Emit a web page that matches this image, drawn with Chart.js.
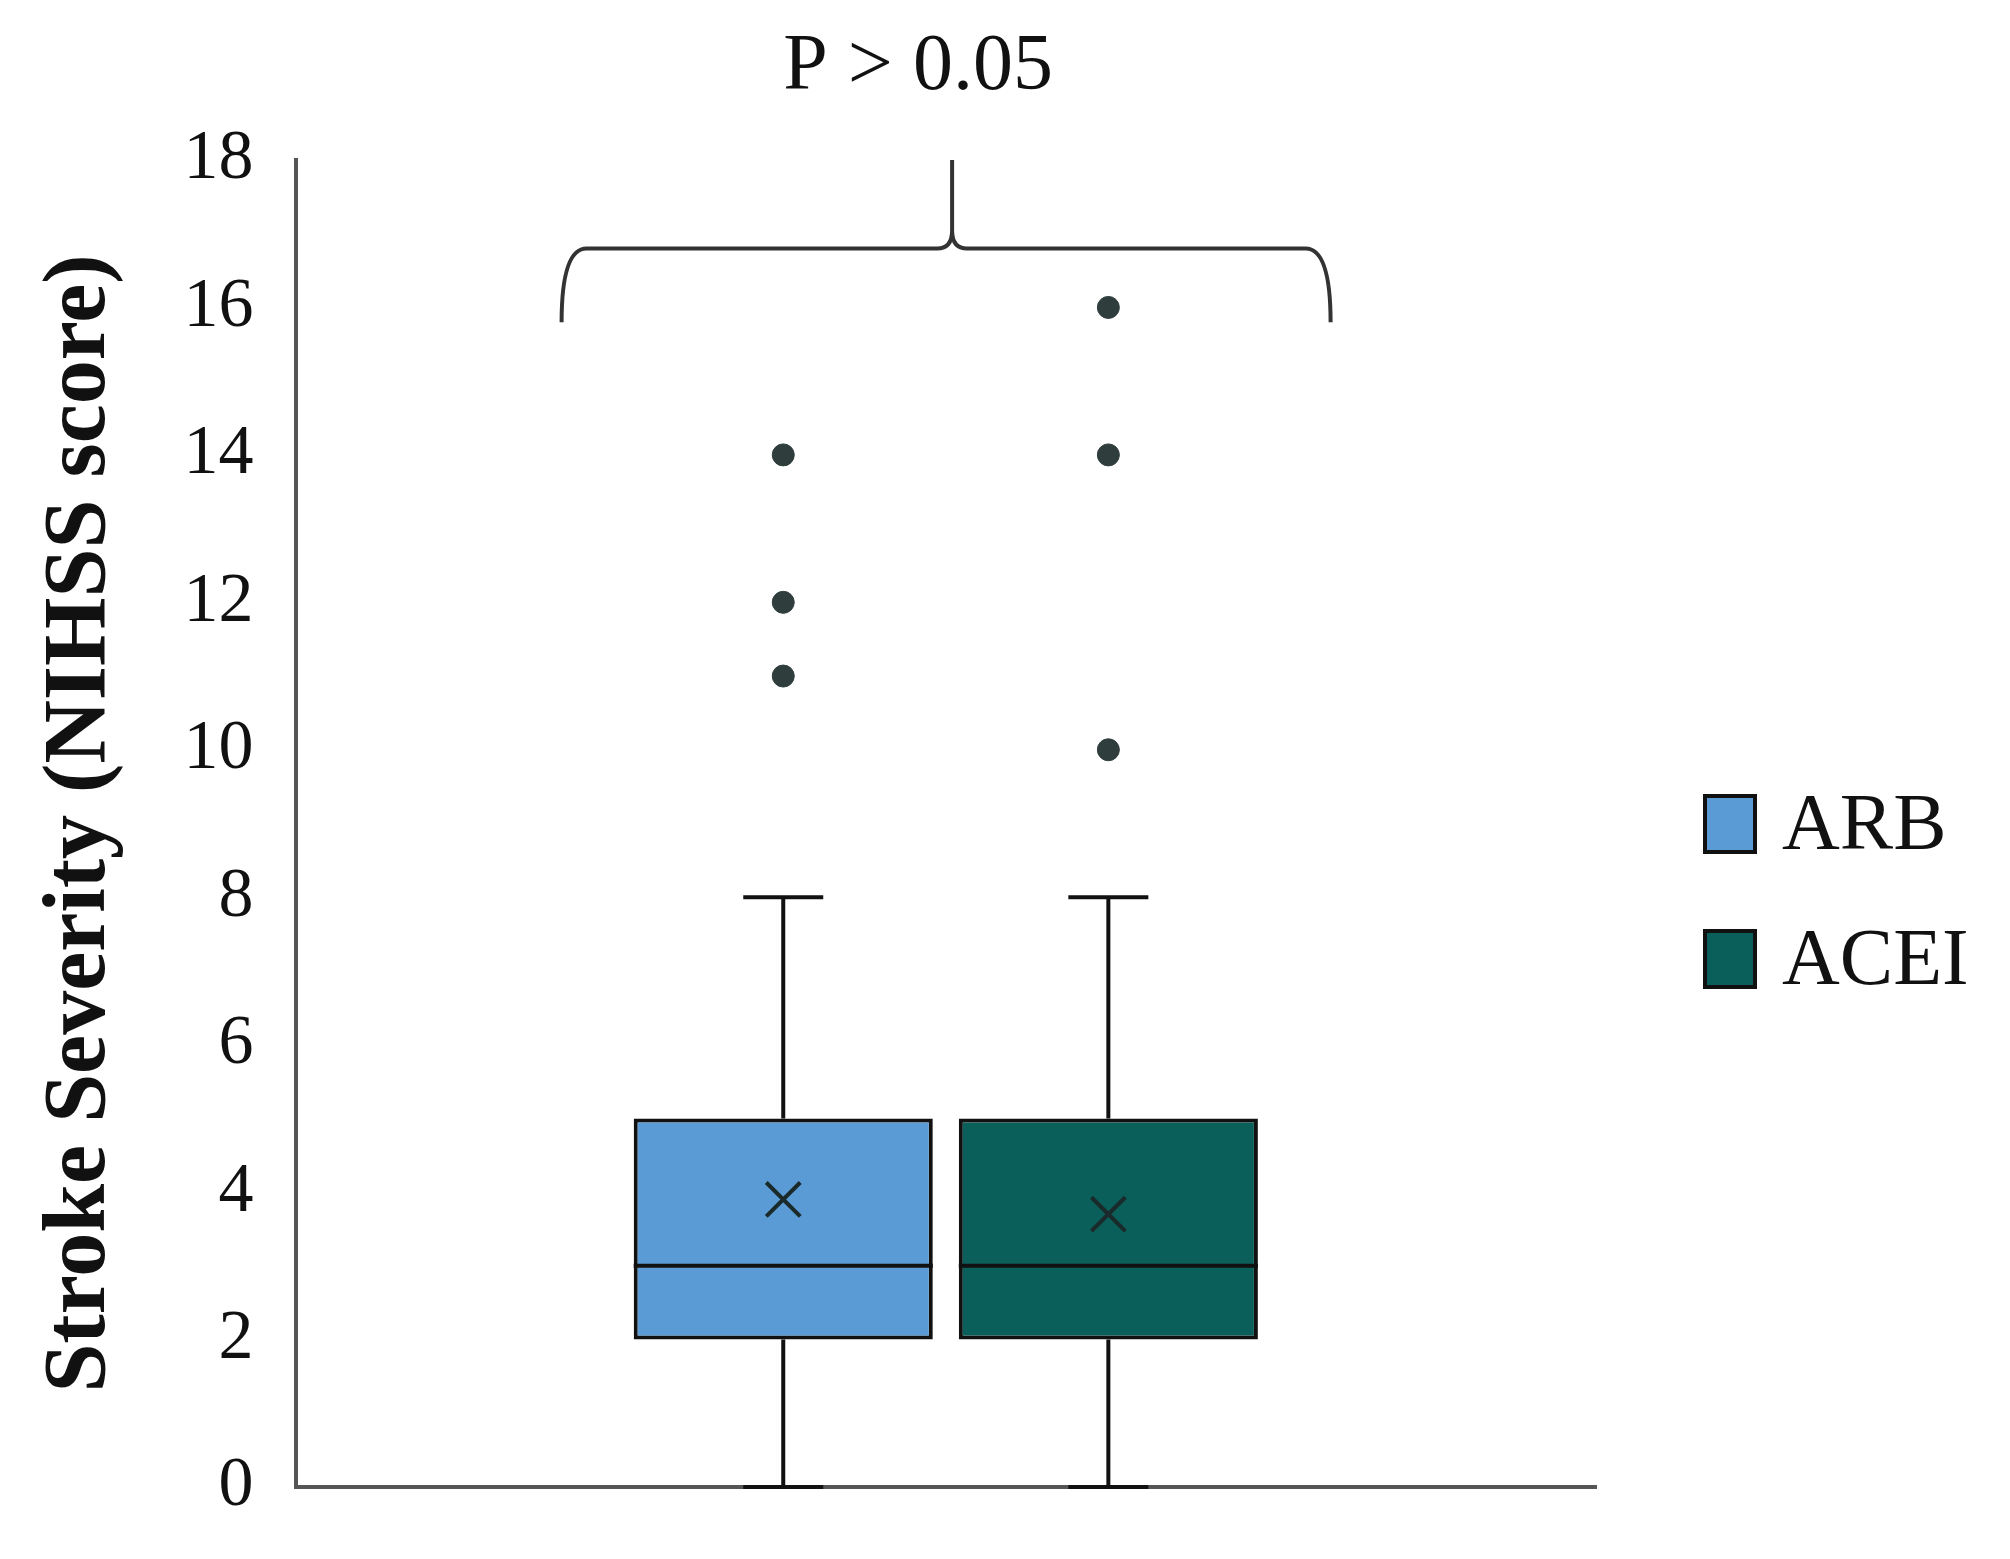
<!DOCTYPE html>
<html><head><meta charset="utf-8">
<script src="https://cdn.jsdelivr.net/npm/chart.js@4"></script>
<style>html,body{margin:0;padding:0;background:#fff}#w{width:2010px;height:1559px}</style>
</head><body><div id="w"><canvas id="c"></canvas></div>
<script>
const categories = ['ARB', 'ACEI'];
const slots = ['', 'ARB', 'ACEI', ''];
const q1 = [2, 2];
const q3 = [5, 5];
const medians = [3, 3];
const means = [3.9, 3.7];
const whiskerLow = [0, 0];
const whiskerHigh = [8, 8];
const outliers = [[11, 12, 14], [10, 14, 16]];
const colors = ['#5b9bd5', '#0b5f5a'];
const yTicks = [0, 2, 4, 6, 8, 10, 12, 14, 16, 18];
const pText = 'P > 0.05';

const datasets = categories.map((c, i) => ({
  type: 'bar', label: c,
  data: slots.map(s => s === c ? [q1[i], q3[i]] : null),
  backgroundColor: colors[i], borderColor: '#111', borderWidth: 4, borderSkipped: false,
  barPercentage: 0.92, categoryPercentage: 1, grouped: false, order: 2
}));
datasets.push({
  type: 'line', label: 'outliers', showLine: false,
  data: categories.flatMap((c, i) => outliers[i].map(v => ({x: c, y: v}))),
  pointRadius: 11, pointBackgroundColor: '#2f3e3d', pointBorderColor: '#2f3e3d', order: 0
});
datasets.push({
  type: 'line', label: 'mean', showLine: false,
  data: categories.map((c, i) => ({x: c, y: means[i]})),
  pointStyle: 'crossRot', pointRadius: 24, pointBorderWidth: 4, pointBorderColor: '#1a2a2a', order: 0
});

const extras = {
  id: 'extras',
  beforeDatasetsDraw(chart) {
    const ctx = chart.ctx, x = chart.scales.x, y = chart.scales.y;
    ctx.save(); ctx.strokeStyle = '#111'; ctx.lineWidth = 4;
    categories.forEach((c, i) => {
      const cx = x.getPixelForValue(slots.indexOf(c));
      ctx.beginPath();
      ctx.moveTo(cx, y.getPixelForValue(whiskerLow[i])); ctx.lineTo(cx, y.getPixelForValue(q1[i]));
      ctx.moveTo(cx, y.getPixelForValue(q3[i])); ctx.lineTo(cx, y.getPixelForValue(whiskerHigh[i]));
      ctx.moveTo(cx - 40, y.getPixelForValue(whiskerHigh[i])); ctx.lineTo(cx + 40, y.getPixelForValue(whiskerHigh[i]));
      ctx.moveTo(cx - 40, y.getPixelForValue(whiskerLow[i])); ctx.lineTo(cx + 40, y.getPixelForValue(whiskerLow[i]));
      ctx.stroke();
    });
    ctx.restore();
  },
  afterDatasetsDraw(chart) {
    const ctx = chart.ctx, x = chart.scales.x, y = chart.scales.y;
    ctx.save(); ctx.strokeStyle = '#111'; ctx.lineWidth = 4;
    categories.forEach((c, i) => {
      const cx = x.getPixelForValue(slots.indexOf(c));
      const half = x.width / slots.length * 0.92 / 2;
      const my = y.getPixelForValue(medians[i]);
      ctx.beginPath(); ctx.moveTo(cx - half, my); ctx.lineTo(cx + half, my); ctx.stroke();
    });
    // brace
    const xl = chart.chartArea.left + 266, xr = chart.chartArea.left + 1035, xm = (xl + xr) / 2 + 6;
    const yb = y.getPixelForValue(16.8), ye = y.getPixelForValue(15.8), yt = y.getPixelForValue(18);
    ctx.strokeStyle = '#333'; ctx.lineWidth = 4;
    ctx.beginPath();
    ctx.moveTo(xl, ye); ctx.quadraticCurveTo(xl, yb, xl + 25, yb);
    ctx.lineTo(xm - 15, yb); ctx.quadraticCurveTo(xm, yb, xm, yb - 18); ctx.lineTo(xm, yt);
    ctx.moveTo(xm, yb - 18); ctx.quadraticCurveTo(xm, yb, xm + 15, yb);
    ctx.lineTo(xr - 25, yb); ctx.quadraticCurveTo(xr, yb, xr, ye);
    ctx.stroke();
    ctx.fillStyle = '#111'; ctx.font = '80px "Liberation Serif"'; ctx.textAlign = 'center'; ctx.textBaseline = 'middle';
    ctx.fillText(pText, xm - 34, 68);
    // legend
    ctx.textAlign = 'left'; ctx.font = '80px "Liberation Serif"';
    categories.forEach((c, i) => {
      const ly = 824 + i * 135;
      ctx.fillStyle = colors[i]; ctx.fillRect(1705, ly - 28, 50, 56);
      ctx.strokeStyle = '#111'; ctx.lineWidth = 4; ctx.strokeRect(1705, ly - 28, 50, 56);
      ctx.fillStyle = '#111'; ctx.fillText(c, 1782, ly + 4);
    });
    ctx.restore();
  }
};

new Chart(document.getElementById('c'), {
  data: {labels: slots, datasets},
  options: {
    responsive: true, maintainAspectRatio: false, animation: false,
    layout: {padding: {top: 160, bottom: 66, right: 414, left: 28}},
    plugins: {legend: {display: false}, tooltip: {enabled: false}},
    scales: {
      x: {type: 'category', offset: true, grid: {display: false, drawTicks: false}, ticks: {display: false},
          border: {color: '#555', width: 4}},
      y: {min: 0, max: 18, afterBuildTicks: s => { s.ticks = yTicks.map(v => ({value: v})); },
          grid: {display: false, drawTicks: true, tickLength: 12, tickWidth: 4, tickColor: '#555'},
          border: {color: '#555', width: 4},
          ticks: {color: '#111', font: {family: 'Liberation Serif', size: 70}, padding: 30},
          title: {display: true, text: 'Stroke Severity (NIHSS score)', color: '#111',
                  font: {family: 'Liberation Serif', size: 88, weight: 'bold'}, padding: {top: 0, bottom: 20}}}
    }
  },
  plugins: [extras]
});
</script></body></html>
